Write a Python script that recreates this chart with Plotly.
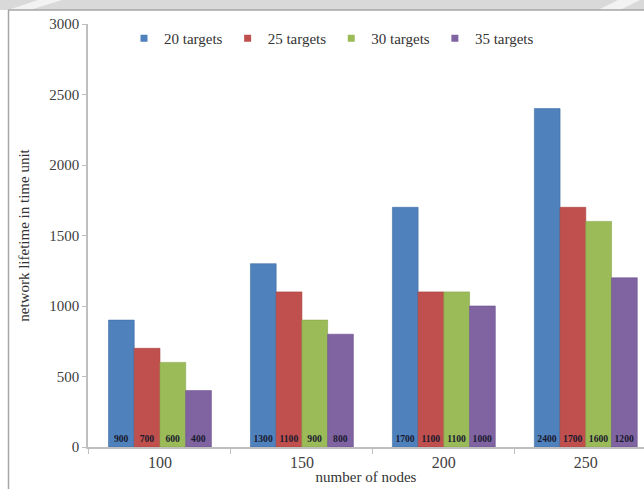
import plotly.graph_objects as go

categories = ["100", "150", "200", "250"]
series_names = ["20 targets", "25 targets", "30 targets", "35 targets"]
t20 = [900, 1300, 1700, 2400]
t25 = [700, 1100, 1100, 1700]
t30 = [600, 900, 1100, 1600]
t35 = [400, 800, 1000, 1200]
y_ticks = [0, 500, 1000, 1500, 2000, 2500, 3000]

colors = ["#4F81BD", "#C0504D", "#9BBB59", "#8064A2"]
edges = ["#3f6fa8", "#a8403d", "#86a548", "#6c5290"]
serif = "Liberation Serif"

fig = go.Figure()
for name, vals, c, e in zip(series_names, [t20, t25, t30, t35], colors, edges):
    fig.add_trace(go.Bar(
        x=categories, y=vals, name=name,
        marker=dict(color=c, line=dict(color=e, width=0.6)),
        text=[str(v) for v in vals], textposition="inside",
        insidetextanchor="start", textangle=0,
        textfont=dict(family=serif, size=11, color="#1a1a2e", weight="bold"),
        showlegend=False,
    ))
    fig.add_trace(go.Scatter(
        x=[None], y=[None], mode="markers", name=name,
        marker=dict(symbol="square", size=7, color=c),
    ))

# page geometry helpers (plot area in pixels: x 88..644, y 24..447)
L, R, T, B = 88, 644, 24, 447
def px(x):
    return (x - L) / (R - L)
def py(y):
    return (B - y) / (B - T)

shapes = [
    dict(type="rect", xref="paper", yref="paper", x0=px(0), x1=px(644), y0=py(10), y1=py(0),
         fillcolor="#d9d9d9", line=dict(width=0), layer="above"),
    dict(type="path", xref="paper", yref="paper",
         path=f"M {px(38)} {py(0)} L {px(62)} {py(0)} L {px(30)} {py(10)} L {px(8)} {py(10)} Z",
         fillcolor="#f2f2f2", line=dict(width=0), layer="above"),
    dict(type="path", xref="paper", yref="paper",
         path=f"M {px(618)} {py(0)} L {px(640)} {py(0)} L {px(620)} {py(10)} L {px(598)} {py(10)} Z",
         fillcolor="#f2f2f2", line=dict(width=0), layer="above"),
    dict(type="line", xref="paper", yref="paper", x0=px(8), x1=px(644), y0=py(10), y1=py(10),
         line=dict(color="#a6a6a6", width=1.5), layer="above"),
    dict(type="line", xref="paper", yref="paper", x0=px(8.5), x1=px(8.5), y0=py(10), y1=py(489),
         line=dict(color="#a6a6a6", width=1.5), layer="above"),
]

fig.update_layout(
    width=644, height=489,
    margin=dict(l=L, r=0, t=T, b=489 - B, pad=0),
    paper_bgcolor="white", plot_bgcolor="white",
    barmode="group", bargap=0.275, bargroupgap=0,
    font=dict(family=serif, size=15, color="#404040"),
    uniformtext=dict(minsize=8, mode="show"),
    legend=dict(orientation="h", x=px(124), y=py(22), xanchor="left", yanchor="top",
                font=dict(family=serif, size=15, color="#333333"),
                itemwidth=30, tracegroupgap=0, bgcolor="rgba(0,0,0,0)"),
    shapes=shapes,
    xaxis=dict(
        type="category", range=[-0.507, 3.41],
        showline=True, linecolor="#bfbfbf", linewidth=1.5,
        ticks="outside", tickson="boundaries", ticklen=5, tickcolor="#bfbfbf",
        tickfont=dict(family=serif, size=16, color="#404040"),
        showgrid=False, zeroline=False,
        title=dict(text="number of nodes", standoff=2,
                   font=dict(family=serif, size=15, color="#333333")),
    ),
    yaxis=dict(
        range=[0, 3000], tickvals=y_ticks, ticktext=[str(v) for v in y_ticks],
        showline=True, linecolor="#bfbfbf", linewidth=1.5,
        ticks="outside", ticklen=4, tickcolor="#bfbfbf",
        tickfont=dict(family=serif, size=15, color="#404040"),
        showgrid=False, zeroline=False,
        title=dict(text="network lifetime in time unit", standoff=16,
                   font=dict(family=serif, size=15, color="#333333")),
    ),
)

fig.write_html("out.html", config={"displayModeBar": False},
               post_script="document.body.style.margin='0px';document.body.style.overflow='hidden';")
